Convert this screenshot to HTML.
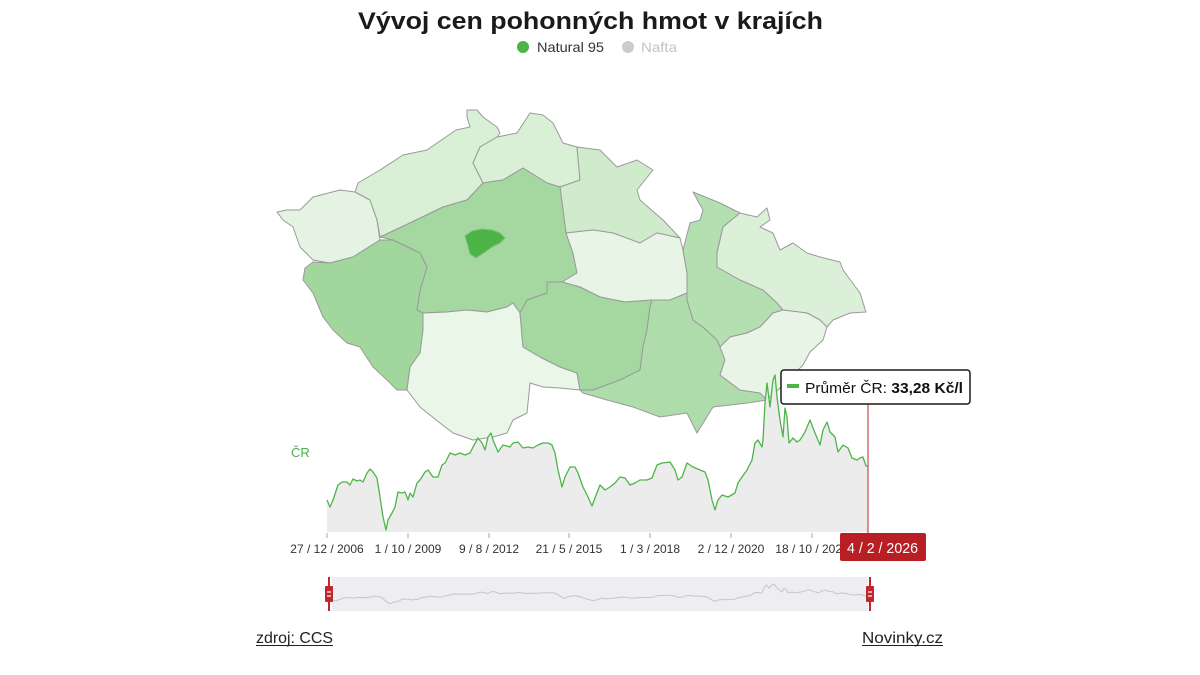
<!DOCTYPE html>
<html>
<head>
<meta charset="utf-8">
<style>
  html,body{margin:0;padding:0;background:#fff;}
  svg{display:block;}
  text{font-family:"Liberation Sans",sans-serif;}
</style>
</head>
<body>
<svg width="1200" height="675" viewBox="0 0 1200 675" xmlns="http://www.w3.org/2000/svg">
  <rect x="0" y="0" width="1200" height="675" fill="#ffffff"/>

  <!-- Title -->
  <text x="358" y="29" font-size="24" font-weight="bold" fill="#1a1a1a" textLength="465" lengthAdjust="spacingAndGlyphs">Vývoj cen pohonných hmot v krajích</text>

  <!-- Legend -->
  <circle cx="523" cy="47" r="6" fill="#4cb548"/>
  <text x="537" y="52" font-size="14" fill="#333" textLength="67" lengthAdjust="spacingAndGlyphs">Natural 95</text>
  <circle cx="628" cy="47" r="6" fill="#cccccc"/>
  <text x="641" y="52" font-size="14" fill="#c4c4c4" textLength="36" lengthAdjust="spacingAndGlyphs">Nafta</text>

  <!-- Map -->
  <g stroke="#9a9a9a" stroke-width="1" stroke-linejoin="round">
    <!-- Karlovarsky -->
    <polygon fill="#e4f3e2" points="355,192 340,190 313,197 300,210 287,210 277,212 283,220 293,227 300,247 313,260 330,263 353,257 380,240 377,220 370,200"/>
    <!-- Ustecky -->
    <polygon fill="#d9efd6" points="467,110 477,110 483,117 497,127 500,133 497,137 480,147 473,163 483,183 467,200 443,207 410,223 380,237 377,220 370,200 355,192 358,183 380,170 403,155 427,150 456,130 470,127 467,117"/>
    <!-- Liberecky -->
    <polygon fill="#d9efd6" points="530,113 543,115 553,123 563,143 577,147 580,180 560,187 547,183 523,168 503,180 483,183 473,163 480,147 497,137 517,133"/>
    <!-- Kralovehradecky -->
    <polygon fill="#d0ebcc" points="577,147 600,150 617,167 637,160 653,170 637,190 640,200 663,220 680,238 657,233 640,243 613,233 593,230 566,233 563,210 560,187 580,180"/>
    <!-- Stredocesky -->
    <polygon fill="#a4d8a0" points="380,237 410,223 443,207 467,200 483,183 503,180 523,168 547,183 560,187 563,210 566,233 573,253 577,273 562,282 547,282 547,293 527,300 520,313 513,303 507,307 487,312 467,310 447,312 423,313 417,310 420,290 427,267 420,253 393,240"/>
    <!-- Plzensky -->
    <polygon fill="#a1d69d" points="313,262 330,263 353,257 380,240 393,240 420,253 427,267 420,290 417,310 423,313 423,330 420,353 410,367 407,390 397,390 387,380 373,367 360,347 347,343 333,330 323,317 313,293 303,280 305,268"/>
    <!-- Jihocesky -->
    <polygon fill="#eaf6e8" points="423,313 447,312 467,310 487,312 507,307 513,303 520,313 523,347 540,357 560,367 577,373 580,390 560,388 543,387 530,383 527,413 513,420 507,433 493,437 473,440 453,433 440,423 420,407 407,390 410,367 420,353 423,330"/>
    <!-- Pardubicky -->
    <polygon fill="#e8f5e6" points="566,233 593,230 613,233 640,243 657,233 680,238 683,250 687,273 687,293 670,300 652,300 625,302 600,297 580,287 562,282 577,273 573,253"/>
    <!-- Vysocina -->
    <polygon fill="#a4d8a0" points="547,282 562,282 580,287 600,297 625,302 652,300 650,307 647,330 643,347 640,370 620,380 593,390 580,390 577,373 560,367 540,357 523,347 520,313 527,300 547,293"/>
    <!-- Jihomoravsky -->
    <polygon fill="#aedcaa" points="652,300 670,300 687,293 687,300 693,320 703,327 717,340 720,347 725,360 720,375 740,390 760,393 767,400 747,403 713,407 697,433 687,413 660,417 633,407 607,400 583,393 580,390 593,390 620,380 640,370 643,347 647,330 650,307"/>
    <!-- Olomoucky -->
    <polygon fill="#b4dfb0" points="693,192 720,203 740,213 723,227 717,253 717,267 740,280 763,290 777,303 783,310 773,313 760,327 747,333 730,337 720,347 717,340 703,327 693,320 687,300 687,273 683,250 690,223 700,220 703,210"/>
    <!-- Moravskoslezsky -->
    <polygon fill="#dcf0d9" points="767,208 770,220 760,227 773,233 780,250 793,243 807,253 820,257 840,262 843,270 860,293 866,312 850,313 833,320 827,327 820,320 807,313 783,310 777,303 763,290 740,280 717,267 717,253 723,227 740,213 757,217"/>
    <!-- Zlinsky -->
    <polygon fill="#e8f5e6" points="720,347 730,337 747,333 760,327 773,313 783,310 807,313 820,320 827,327 823,340 810,352 803,365 790,378 778,390 767,400 760,393 740,390 720,375 725,360"/>
    <!-- Praha -->
    <polygon fill="#4cb347" stroke="#7fbf7a" points="465,236 472,231 482,229 492,230 500,233 505,238 500,243 492,247 485,252 476,258 470,254 468,246"/>
  </g>

  <!-- Chart area -->
  <polygon fill="#ececec" points="327,500 330,507 333,500 338,485 342,482 347,482 350,485 353,479 357,481 360,480 363,482 367,473 370,469 373,472 377,478 380,497 383,517 386,530 388,520 392,513 395,507 398,492 402,493 405,492 408,500 410,493 413,497 417,483 420,480 425,472 428,470 433,477 438,477 442,465 445,463 450,453 455,455 460,453 465,455 470,453 473,447 478,438 482,443 485,450 488,437 491,433 493,440 498,452 503,445 510,447 513,443 518,442 523,448 528,447 533,448 538,445 543,443 548,443 552,445 555,453 558,470 562,487 565,477 570,467 575,467 578,473 583,487 588,497 592,506 595,498 600,485 605,490 610,487 615,483 620,477 625,478 630,485 635,483 640,480 647,480 652,478 657,465 662,463 670,462 675,470 678,480 682,477 687,463 693,467 700,470 705,472 708,480 712,500 715,510 718,500 722,495 728,497 735,493 738,483 742,477 747,470 752,460 755,443 758,440 762,447 763,440 765,403 767,383 770,407 773,380 775,375 777,397 780,420 783,437 785,408 787,417 789,443 793,438 797,442 800,440 805,432 810,420 815,433 820,445 823,430 827,422 830,432 835,437 838,452 843,445 848,448 852,458 857,460 860,458 863,457 866,466 868,466 868,532 327,532"/>
  <polyline fill="none" stroke="#4cb548" stroke-width="1.3" stroke-linejoin="round" points="327,500 330,507 333,500 338,485 342,482 347,482 350,485 353,479 357,481 360,480 363,482 367,473 370,469 373,472 377,478 380,497 383,517 386,530 388,520 392,513 395,507 398,492 402,493 405,492 408,500 410,493 413,497 417,483 420,480 425,472 428,470 433,477 438,477 442,465 445,463 450,453 455,455 460,453 465,455 470,453 473,447 478,438 482,443 485,450 488,437 491,433 493,440 498,452 503,445 510,447 513,443 518,442 523,448 528,447 533,448 538,445 543,443 548,443 552,445 555,453 558,470 562,487 565,477 570,467 575,467 578,473 583,487 588,497 592,506 595,498 600,485 605,490 610,487 615,483 620,477 625,478 630,485 635,483 640,480 647,480 652,478 657,465 662,463 670,462 675,470 678,480 682,477 687,463 693,467 700,470 705,472 708,480 712,500 715,510 718,500 722,495 728,497 735,493 738,483 742,477 747,470 752,460 755,443 758,440 762,447 763,440 765,403 767,383 770,407 773,380 775,375 777,397 780,420 783,437 785,408 787,417 789,443 793,438 797,442 800,440 805,432 810,420 815,433 820,445 823,430 827,422 830,432 835,437 838,452 843,445 848,448 852,458 857,460 860,458 863,457 866,466 868,466"/>

  <!-- CR label -->
  <text x="291" y="457" font-size="13" fill="#4cae4c">ČR</text>

  <!-- ticks -->
  <g stroke="#aaaaaa" stroke-width="1">
    <line x1="327" y1="533" x2="327" y2="538"/>
    <line x1="408" y1="533" x2="408" y2="538"/>
    <line x1="489" y1="533" x2="489" y2="538"/>
    <line x1="569" y1="533" x2="569" y2="538"/>
    <line x1="650" y1="533" x2="650" y2="538"/>
    <line x1="731" y1="533" x2="731" y2="538"/>
    <line x1="812" y1="533" x2="812" y2="538"/>
  </g>
  <g font-size="12" fill="#333" text-anchor="middle">
    <text x="327" y="553">27 / 12 / 2006</text>
    <text x="408" y="553">1 / 10 / 2009</text>
    <text x="489" y="553">9 / 8 / 2012</text>
    <text x="569" y="553">21 / 5 / 2015</text>
    <text x="650" y="553">1 / 3 / 2018</text>
    <text x="731" y="553">2 / 12 / 2020</text>
    <text x="812" y="553">18 / 10 / 2023</text>
  </g>

  <!-- crosshair -->
  <line x1="868" y1="403" x2="868" y2="534" stroke="#c0262b" stroke-width="1"/>
  <rect x="840" y="533" width="86" height="28" rx="2" fill="#b81f24"/>
  <text x="847" y="553" font-size="15" fill="#ffffff" textLength="71" lengthAdjust="spacingAndGlyphs">4 / 2 / 2026</text>

  <!-- tooltip -->
  <rect x="781" y="370" width="189" height="34" rx="3" fill="#ffffff" stroke="#1a1a1a" stroke-width="1.5"/>
  <rect x="787" y="384" width="12" height="4" fill="#4cb548"/>
  <text x="805" y="393" font-size="15" fill="#111" textLength="158" lengthAdjust="spacingAndGlyphs">Průměr ČR: <tspan font-weight="bold">33,28 Kč/l</tspan></text>

  <!-- navigator -->
  <rect x="332" y="577" width="536" height="34" fill="#eeeef2"/>
  <g transform="matrix(0.987,0,0,0.129,9.25,535.6)">
    <polyline fill="none" stroke="#c6c6c6" stroke-width="1" vector-effect="non-scaling-stroke" points="327,500 330,507 333,500 338,485 342,482 347,482 350,485 353,479 357,481 360,480 363,482 367,473 370,469 373,472 377,478 380,497 383,517 386,530 388,520 392,513 395,507 398,492 402,493 405,492 408,500 410,493 413,497 417,483 420,480 425,472 428,470 433,477 438,477 442,465 445,463 450,453 455,455 460,453 465,455 470,453 473,447 478,438 482,443 485,450 488,437 491,433 493,440 498,452 503,445 510,447 513,443 518,442 523,448 528,447 533,448 538,445 543,443 548,443 552,445 555,453 558,470 562,487 565,477 570,467 575,467 578,473 583,487 588,497 592,506 595,498 600,485 605,490 610,487 615,483 620,477 625,478 630,485 635,483 640,480 647,480 652,478 657,465 662,463 670,462 675,470 678,480 682,477 687,463 693,467 700,470 705,472 708,480 712,500 715,510 718,500 722,495 728,497 735,493 738,483 742,477 747,470 752,460 755,443 758,440 762,447 763,440 765,403 767,383 770,407 773,380 775,375 777,397 780,420 783,437 785,408 787,417 789,443 793,438 797,442 800,440 805,432 810,420 815,433 820,445 823,430 827,422 830,432 835,437 838,452 843,445 848,448 852,458 857,460 860,458 863,457 866,466 868,466"/>
  </g>
  <!-- handles -->
  <g>
    <line x1="329" y1="577" x2="329" y2="611" stroke="#c0262b" stroke-width="2"/>
    <rect x="325" y="586" width="8" height="16" rx="1" fill="#c0262b"/>
    <line x1="327" y1="592" x2="331" y2="592" stroke="#fff" stroke-width="1.2"/>
    <line x1="327" y1="596" x2="331" y2="596" stroke="#fff" stroke-width="1.2"/>
    <line x1="870" y1="577" x2="870" y2="611" stroke="#c0262b" stroke-width="2"/>
    <rect x="866" y="586" width="8" height="16" rx="1" fill="#c0262b"/>
    <line x1="868" y1="592" x2="872" y2="592" stroke="#fff" stroke-width="1.2"/>
    <line x1="868" y1="596" x2="872" y2="596" stroke="#fff" stroke-width="1.2"/>
  </g>

  <!-- footer -->
  <text x="256" y="643" font-size="16" fill="#222" textLength="77" lengthAdjust="spacingAndGlyphs">zdroj: CCS</text>
  <line x1="256" y1="645.5" x2="333" y2="645.5" stroke="#222" stroke-width="1"/>
  <text x="862" y="643" font-size="16" fill="#222" textLength="81" lengthAdjust="spacingAndGlyphs">Novinky.cz</text>
  <line x1="862" y1="645.5" x2="943" y2="645.5" stroke="#222" stroke-width="1"/>
</svg>
</body>
</html>
